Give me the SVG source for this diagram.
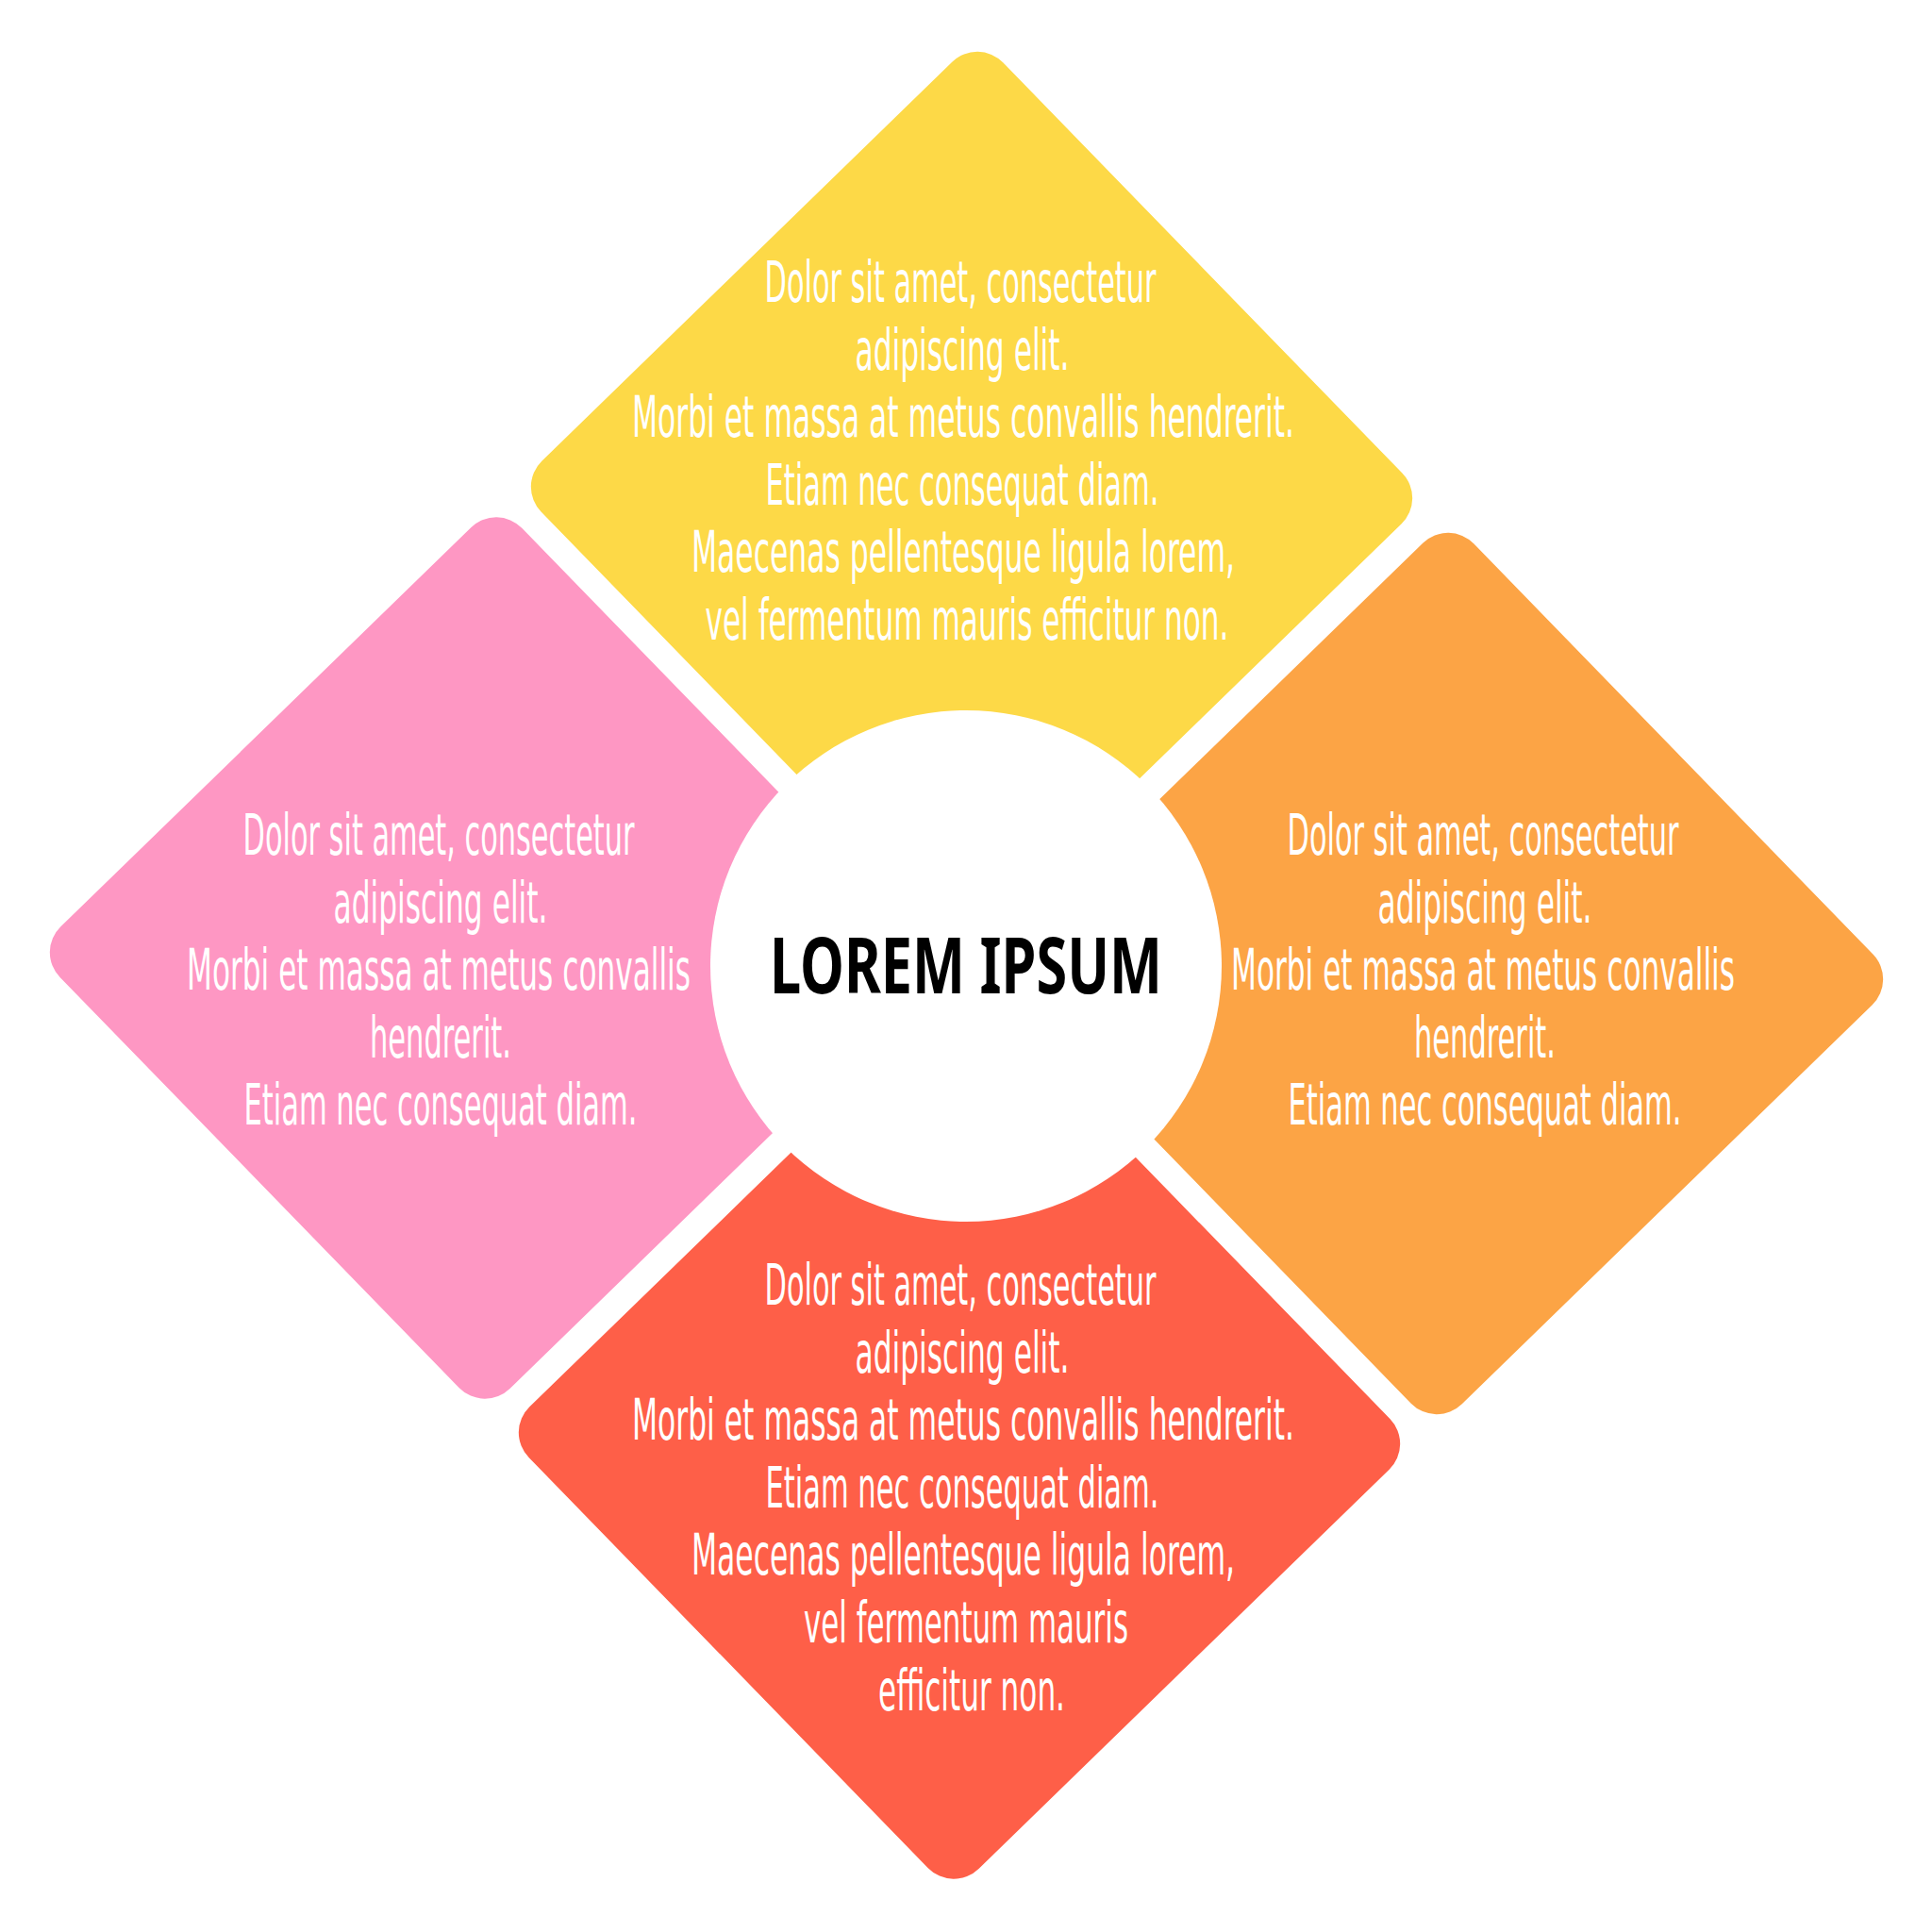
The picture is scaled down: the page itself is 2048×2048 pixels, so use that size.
<svg xmlns="http://www.w3.org/2000/svg" width="2048" height="2048" viewBox="0 0 2048 2048">
  <style>
    .t { font-family: "Liberation Sans Narrow", "DejaVu Sans Condensed", "Noto Sans", sans-serif; font-stretch: condensed; font-size: 60px; fill: #ffffff; text-anchor: middle; }
    .title { font-family: "Noto Sans", "Liberation Sans", sans-serif; font-weight: bold; font-size: 82px; fill: #000000; text-anchor: middle; }
  </style>
  <defs>
    <rect id="diamond" x="-341.5" y="-341.5" width="683" height="683" rx="38" ry="38"/>
  </defs>
  <rect width="2048" height="2048" fill="#ffffff"/>
  <g id="connectors"/>
  <g id="node-top">
    <use href="#diamond" transform="translate(1030 522) rotate(45.8)" fill="#FDD947"/>
  </g>
  <g id="node-right">
    <use href="#diamond" transform="translate(1529 1032) rotate(45.8)" fill="#FCA445"/>
  </g>
  <g id="node-bottom">
    <use href="#diamond" transform="translate(1017 1524.5) rotate(45.8)" fill="#FE5F48"/>
  </g>
  <g id="node-left">
    <use href="#diamond" transform="translate(520 1015.5) rotate(45.8)" fill="#FE97C3"/>
  </g>
  <g id="node-center">
    <circle cx="1024" cy="1024" r="271" fill="#ffffff"/>
    <text class="title" x="1024" y="1053" textLength="416" lengthAdjust="spacingAndGlyphs">LOREM IPSUM</text>
  </g>
  <g id="text-top">
    <text class="t" x="1018" y="320" textLength="415" lengthAdjust="spacingAndGlyphs">Dolor sit amet, consectetur</text>
    <text class="t" x="1020" y="391.6" textLength="227" lengthAdjust="spacingAndGlyphs">adipiscing elit.</text>
    <text class="t" x="1021" y="463.2" textLength="702" lengthAdjust="spacingAndGlyphs">Morbi et massa at metus convallis hendrerit.</text>
    <text class="t" x="1020" y="534.8" textLength="417" lengthAdjust="spacingAndGlyphs">Etiam nec consequat diam.</text>
    <text class="t" x="1021" y="606.4" textLength="576" lengthAdjust="spacingAndGlyphs">Maecenas pellentesque ligula lorem,</text>
    <text class="t" x="1025" y="678" textLength="555" lengthAdjust="spacingAndGlyphs">vel fermentum mauris efficitur non.</text>
  </g>
  <g id="text-left">
    <text class="t" x="465" y="906" textLength="415" lengthAdjust="spacingAndGlyphs">Dolor sit amet, consectetur</text>
    <text class="t" x="467" y="977.6" textLength="227" lengthAdjust="spacingAndGlyphs">adipiscing elit.</text>
    <text class="t" x="465" y="1049.2" textLength="534" lengthAdjust="spacingAndGlyphs">Morbi et massa at metus convallis</text>
    <text class="t" x="467" y="1120.8" textLength="150" lengthAdjust="spacingAndGlyphs">hendrerit.</text>
    <text class="t" x="467" y="1192.4" textLength="417" lengthAdjust="spacingAndGlyphs">Etiam nec consequat diam.</text>
  </g>
  <g id="text-right">
    <text class="t" x="1572" y="906" textLength="415" lengthAdjust="spacingAndGlyphs">Dolor sit amet, consectetur</text>
    <text class="t" x="1574" y="977.6" textLength="227" lengthAdjust="spacingAndGlyphs">adipiscing elit.</text>
    <text class="t" x="1572" y="1049.2" textLength="534" lengthAdjust="spacingAndGlyphs">Morbi et massa at metus convallis</text>
    <text class="t" x="1574" y="1120.8" textLength="150" lengthAdjust="spacingAndGlyphs">hendrerit.</text>
    <text class="t" x="1574" y="1192.4" textLength="417" lengthAdjust="spacingAndGlyphs">Etiam nec consequat diam.</text>
  </g>
  <g id="text-bottom">
    <text class="t" x="1018" y="1383" textLength="415" lengthAdjust="spacingAndGlyphs">Dolor sit amet, consectetur</text>
    <text class="t" x="1020" y="1454.6" textLength="227" lengthAdjust="spacingAndGlyphs">adipiscing elit.</text>
    <text class="t" x="1021" y="1526.2" textLength="702" lengthAdjust="spacingAndGlyphs">Morbi et massa at metus convallis hendrerit.</text>
    <text class="t" x="1020" y="1597.8" textLength="417" lengthAdjust="spacingAndGlyphs">Etiam nec consequat diam.</text>
    <text class="t" x="1021" y="1669.4" textLength="576" lengthAdjust="spacingAndGlyphs">Maecenas pellentesque ligula lorem,</text>
    <text class="t" x="1024" y="1741" textLength="344" lengthAdjust="spacingAndGlyphs">vel fermentum mauris</text>
    <text class="t" x="1030" y="1812.6" textLength="198" lengthAdjust="spacingAndGlyphs">efficitur non.</text>
  </g>
</svg>
